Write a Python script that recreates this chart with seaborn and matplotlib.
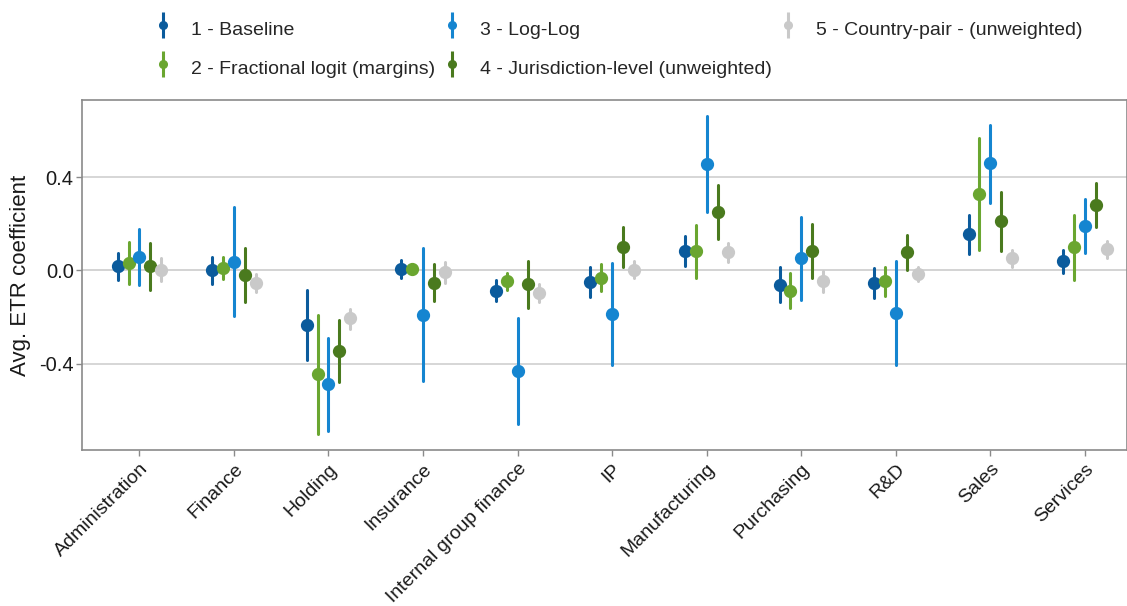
import numpy as np
import pandas as pd
import matplotlib
matplotlib.use("Agg")
import matplotlib.pyplot as plt
from matplotlib.lines import Line2D
from matplotlib.legend_handler import HandlerTuple
import seaborn as sns

# Business-function categories on the x axis
categories = ["Administration", "Finance", "Holding", "Insurance",
              "Internal group finance", "IP", "Manufacturing", "Purchasing",
              "R&D", "Sales", "Services"]

models = ["1 - Baseline", "2 - Fractional logit (margins)", "3 - Log-Log",
          "4 - Jurisdiction-level (unweighted)", "5 - Country-pair - (unweighted)"]

# Point estimates and confidence bounds per model
baseline_est = [0.018, 0.000, -0.234, 0.007, -0.086, -0.050, 0.085, -0.062, -0.053, 0.156, 0.039]
baseline_lo  = [-0.042, -0.057, -0.386, -0.034, -0.133, -0.115, 0.019, -0.136, -0.120, 0.072, -0.012]
baseline_hi  = [0.076, 0.057, -0.082, 0.046, -0.039, 0.014, 0.148, 0.014, 0.011, 0.238, 0.089]

fraclogit_est = [0.033, 0.011, -0.445, 0.007, -0.044, -0.032, 0.083, -0.089, -0.046, 0.327, 0.100]
fraclogit_lo  = [-0.060, -0.036, -0.703, -0.005, -0.082, -0.089, -0.032, -0.163, -0.110, 0.086, -0.039]
fraclogit_hi  = [0.123, 0.057, -0.189, 0.019, -0.010, 0.026, 0.195, -0.011, 0.014, 0.566, 0.238]

loglog_est = [0.059, 0.037, -0.488, -0.189, -0.430, -0.186, 0.456, 0.052, -0.183, 0.459, 0.192]
loglog_lo  = [-0.063, -0.196, -0.688, -0.473, -0.657, -0.407, 0.251, -0.125, -0.407, 0.290, 0.076]
loglog_hi  = [0.176, 0.270, -0.290, 0.095, -0.202, 0.033, 0.664, 0.228, 0.040, 0.625, 0.308]

jurisdiction_est = [0.018, -0.020, -0.347, -0.052, -0.060, 0.100, 0.251, 0.085, 0.077, 0.211, 0.282]
jurisdiction_lo  = [-0.082, -0.136, -0.480, -0.130, -0.162, 0.016, 0.133, -0.032, 0.003, 0.083, 0.188]
jurisdiction_hi  = [0.119, 0.098, -0.211, 0.027, 0.039, 0.185, 0.367, 0.201, 0.150, 0.337, 0.375]

countrypair_est = [0.001, -0.053, -0.206, -0.007, -0.096, 0.004, 0.079, -0.046, -0.014, 0.053, 0.090]
countrypair_lo  = [-0.046, -0.093, -0.251, -0.053, -0.135, -0.033, 0.037, -0.092, -0.047, 0.016, 0.055]
countrypair_hi  = [0.052, -0.014, -0.165, 0.037, -0.059, 0.042, 0.116, -0.003, 0.016, 0.087, 0.126]

yticks = [-0.4, 0.0, 0.4]
ytick_labels = ["-0.4", "0.0", "0.4"]

colors = ["#0b5b9c", "#6aa630", "#1585d0", "#4a7a1e", "#c9c9c9"]

series = {
    models[0]: (baseline_est, baseline_lo, baseline_hi),
    models[1]: (fraclogit_est, fraclogit_lo, fraclogit_hi),
    models[2]: (loglog_est, loglog_lo, loglog_hi),
    models[3]: (jurisdiction_est, jurisdiction_lo, jurisdiction_hi),
    models[4]: (countrypair_est, countrypair_lo, countrypair_hi),
}

# Long table: lower bound, estimate, upper bound per cell, so that the
# median gives the point and the full percentile range gives the interval.
rows = []
for m, (est, lo, hi) in series.items():
    for c, e, l, h in zip(categories, est, lo, hi):
        for v in (l, e, h):
            rows.append({"category": c, "model": m, "value": v})
df = pd.DataFrame(rows)

sns.set_theme(style="white")
plt.rcParams["font.family"] = ["Liberation Sans", "DejaVu Sans"]

fig = plt.figure(figsize=(11.27, 6.06), dpi=100)
ax = fig.add_axes([82 / 1127, 1 - 450 / 606, 1 - 82 / 1127, 350 / 606])

sns.pointplot(data=df, x="category", y="value", hue="model",
              order=categories, hue_order=models, palette=colors,
              estimator="median", errorbar=("pi", 100),
              dodge=0.46, linestyle="none", markers="o", markersize=7.5,
              err_kws={"linewidth": 2.2}, legend=False, ax=ax)

ax.set_xlim(-0.607, 10.445)
ax.set_ylim(-0.770, 0.731)
ax.set_yticks(yticks)
ax.set_yticklabels(ytick_labels)
ax.yaxis.grid(True, color="#d6d6d6", linewidth=1.4)
ax.xaxis.grid(False)
ax.axhline(0, color="#9a9a9a", linewidth=1.4, zorder=0.5)
ax.set_axisbelow(True)

for s in ax.spines.values():
    s.set_color("#8a8a8a")
    s.set_linewidth(1.2)

ax.tick_params(axis="both", which="both", direction="out", length=4,
               width=1.0, color="#8a8a8a", labelsize=14, labelcolor="#1a1a1a",
               left=True, bottom=True)
ax.tick_params(axis="y", labelsize=14.5, pad=2)
plt.setp(ax.get_xticklabels(), rotation=45, ha="right", rotation_mode="anchor")
ax.set_xlabel("")
ax.set_ylabel("Avg. ETR coefficient", fontsize=16, color="#1a1a1a", labelpad=6)

handles = [
    (Line2D([], [], color=c, marker="|", markersize=19, markeredgewidth=2.2, linestyle="none"),
     Line2D([], [], color=c, marker="o", markersize=5.5, linestyle="none"))
    for c in colors
]
fig.legend(handles, models, ncol=3, loc="upper left",
           bbox_to_anchor=(153 / 1127, 1 - 16 / 606),
           frameon=False, fontsize=14, borderpad=0, borderaxespad=0,
           handlelength=1.0, handleheight=1.6, handletextpad=0.95,
           labelspacing=0.72, columnspacing=0.35,
           handler_map={tuple: HandlerTuple(ndivide=1)})

fig.savefig("out.png", dpi=100)
